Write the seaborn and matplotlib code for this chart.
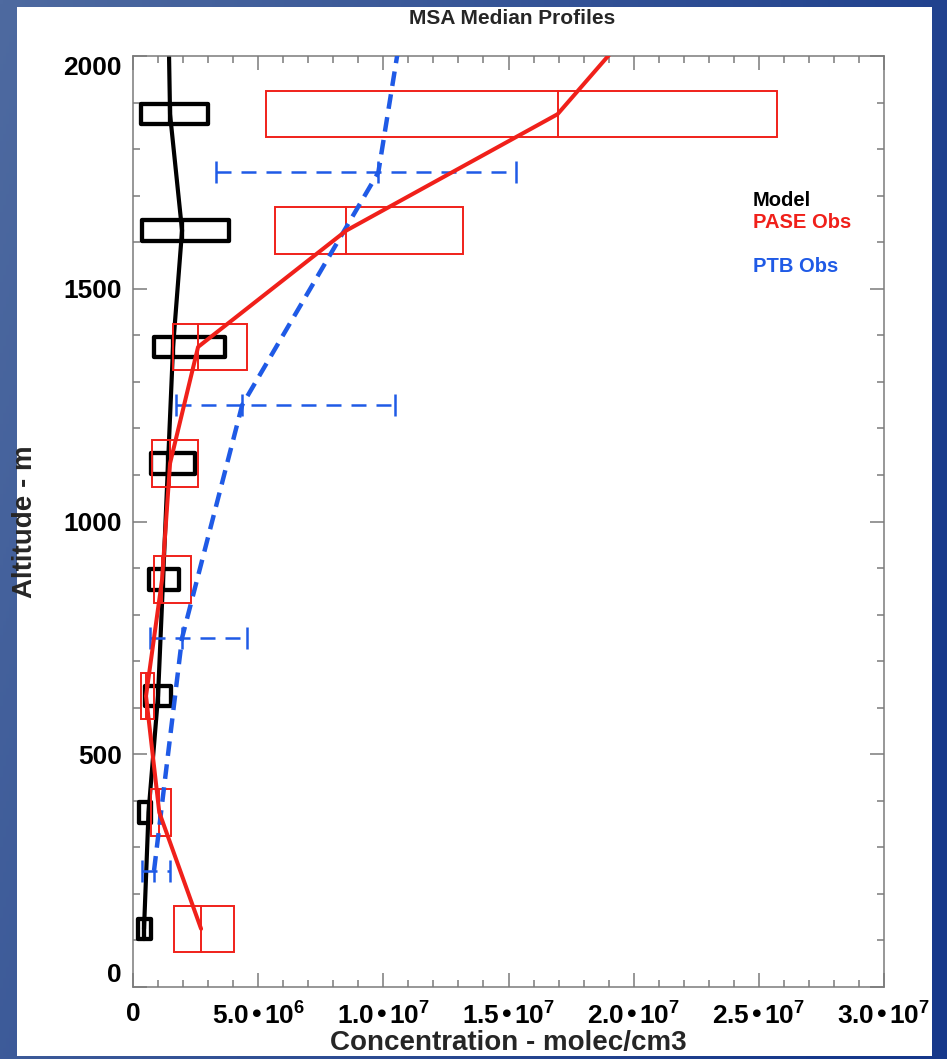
import numpy as np
import pandas as pd
import matplotlib
matplotlib.use("Agg")
import matplotlib.pyplot as plt
from matplotlib.patches import Rectangle
from matplotlib.ticker import MultipleLocator, FixedLocator, FixedFormatter
import seaborn as sns

# ---- data (concentrations in 1e6 molec/cm3, altitudes in m) ----
box_alt = [125, 375, 625, 875, 1125, 1375, 1625, 1875]

model_low = [0.20, 0.24, 0.48, 0.64, 0.72, 0.84, 0.36, 0.32]
model_med = [0.44, 0.62, 1.00, 1.20, 1.40, 1.60, 1.96, 1.48]
model_high = [0.72, 0.72, 1.52, 1.84, 2.48, 3.68, 3.84, 3.00]
model_line_alt = box_alt + [2125]
model_line_val = model_med + [1.40]

pase_low = [1.64, 0.72, 0.32, 0.84, 0.76, 1.60, 5.68, 5.32]
pase_med = [2.72, 1.05, 0.52, 1.16, 1.48, 2.60, 8.52, 16.96]
pase_high = [4.04, 1.52, 0.84, 2.32, 2.60, 4.56, 13.20, 25.72]
pase_line_alt = box_alt + [2125]
pase_line_val = pase_med + [21.0]

ptb_alt = [250, 750, 1250, 1750]
ptb_low = [0.36, 0.68, 1.72, 3.32]
ptb_med = [0.84, 1.96, 4.36, 9.80]
ptb_high = [1.48, 4.56, 10.48, 15.28]
ptb_line_alt = ptb_alt + [2250]
ptb_line_val = ptb_med + [11.3]

x_ticks = [0, 5, 10, 15, 20, 25, 30]
x_tick_labels = ["0", "5.0•10$^6$", "1.0•10$^7$", "1.5•10$^7$",
                 "2.0•10$^7$", "2.5•10$^7$", "3.0•10$^7$"]
y_ticks = [0, 500, 1000, 1500, 2000]
legend_names = ["Model", "PASE Obs", "PTB Obs"]

SCALE = 1e6
BLACK, RED, BLUE = "black", "#f0201a", "#1f5ae6"
FRAME = "#7a7a7a"

sns.set_style("ticks")
plt.rcParams["font.family"] = ["Liberation Sans", "DejaVu Sans"]
plt.rcParams["font.weight"] = "bold"
plt.rcParams["mathtext.default"] = "regular"

fig = plt.figure(figsize=(9.47, 10.59), dpi=100)

# blue gradient backdrop with a white panel
bg = fig.add_axes([0, 0, 1, 1], zorder=-10)
yy, xx = np.mgrid[0:1:300j, 0:1:300j]
c0 = np.array([78, 106, 160]) / 255
c1 = np.array([22, 56, 138]) / 255
t = np.clip(0.8 * xx + 0.3 * yy, 0, 1)[..., None]
bg.imshow(c0 * (1 - t) + c1 * t, extent=[0, 1, 0, 1], aspect="auto",
          origin="upper")
bg.add_patch(Rectangle((17 / 947, 3 / 1059), (932 - 17) / 947,
                       (1056 - 7) / 1059, color="white", lw=0))
bg.set_xlim(0, 1)
bg.set_ylim(0, 1)
bg.set_axis_off()

ax = fig.add_axes([133 / 947, 1 - 987 / 1059, 751 / 947, 931 / 1059])
ax.set_facecolor("white")

# model boxes
for a, lo, md, hi in zip(box_alt, model_low, model_med, model_high):
    ax.add_patch(Rectangle((lo * SCALE, a - 22), (hi - lo) * SCALE, 44,
                           fill=False, ec=BLACK, lw=3.1, joinstyle="round",
                           zorder=2))
    ax.plot([md * SCALE, md * SCALE], [a - 22, a + 22], color=BLACK,
            lw=3.1, zorder=2)

# PASE boxes
for a, lo, md, hi in zip(box_alt, pase_low, pase_med, pase_high):
    ax.add_patch(Rectangle((lo * SCALE, a - 50), (hi - lo) * SCALE, 100,
                           fill=False, ec=RED, lw=1.4, zorder=3))
    ax.plot([md * SCALE, md * SCALE], [a - 50, a + 50], color=RED,
            lw=1.4, zorder=3)

# PTB ranges
eb = ax.errorbar(np.array(ptb_med) * SCALE, ptb_alt,
                 xerr=[(np.array(ptb_med) - np.array(ptb_low)) * SCALE,
                       (np.array(ptb_high) - np.array(ptb_med)) * SCALE],
                 fmt="none", ecolor=BLUE, elinewidth=1.8, capsize=8,
                 capthick=1.8, zorder=4)
eb.lines[2][0].set_linestyle((0, (6, 4)))
ax.plot(np.array(ptb_med) * SCALE, ptb_alt, ls="none", marker="|", ms=16,
        mew=1.8, color=BLUE, zorder=4)

# median profiles
model_df = pd.DataFrame({"conc": np.array(model_line_val) * SCALE,
                         "alt": model_line_alt})
pase_df = pd.DataFrame({"conc": np.array(pase_line_val) * SCALE,
                        "alt": pase_line_alt})
ptb_df = pd.DataFrame({"conc": np.array(ptb_line_val) * SCALE,
                       "alt": ptb_line_alt})

sns.lineplot(data=model_df, x="conc", y="alt", sort=False, estimator=None,
             color=BLACK, lw=3.0, ax=ax, zorder=2)
sns.lineplot(data=ptb_df, x="conc", y="alt", sort=False, estimator=None,
             color=BLUE, lw=3.2, linestyle=(0, (3.3, 1.9)), ax=ax, zorder=5)
sns.lineplot(data=pase_df, x="conc", y="alt", sort=False, estimator=None,
             color=RED, lw=2.9, ax=ax, zorder=6)

ax.set_xlim(0, 30 * SCALE)
ax.set_ylim(0, 2000)

ax.xaxis.set_major_locator(FixedLocator([v * SCALE for v in x_ticks]))
ax.xaxis.set_major_formatter(FixedFormatter(x_tick_labels))
ax.xaxis.set_minor_locator(MultipleLocator(1 * SCALE))
ax.yaxis.set_major_locator(FixedLocator(y_ticks))
ax.yaxis.set_minor_locator(MultipleLocator(100))

ax.tick_params(which="both", direction="in", top=True, right=True,
               color=FRAME, width=1.1, labelsize=19, labelcolor="black")
ax.tick_params(which="major", length=10)
ax.tick_params(which="minor", length=5)
ax.tick_params(axis="y", pad=8)
ax.tick_params(axis="x", pad=11)
for lab in ax.get_xticklabels() + ax.get_yticklabels():
    lab.set_fontweight("bold")
yt = ax.yaxis.get_major_ticks()
yt[0].label1.set_va("bottom")
yt[-1].label1.set_va("top")

for s in ax.spines.values():
    s.set_color(FRAME)
    s.set_linewidth(1.1)
    s.set_visible(True)

ax.set_xlabel("Concentration - molec/cm3", fontsize=20, fontweight="bold")
ax.set_ylabel("Altitude - m", fontsize=20, fontweight="bold")
ax.xaxis.set_label_coords(0.5, -0.046)
ax.yaxis.set_label_coords(-0.1265, 0.5)

fig.text(512 / 947, 1 - 19 / 1059, "MSA Median Profiles", ha="center",
         va="center", fontsize=15, fontweight="bold")

for name, col, yf in zip(legend_names, [BLACK, RED, BLUE],
                         [0.845, 0.8207, 0.7744]):
    ax.text(0.8256, yf, name, color=col, fontsize=14.5, fontweight="bold",
            transform=ax.transAxes, ha="left", va="center")

fig.savefig("out.png", dpi=100)
